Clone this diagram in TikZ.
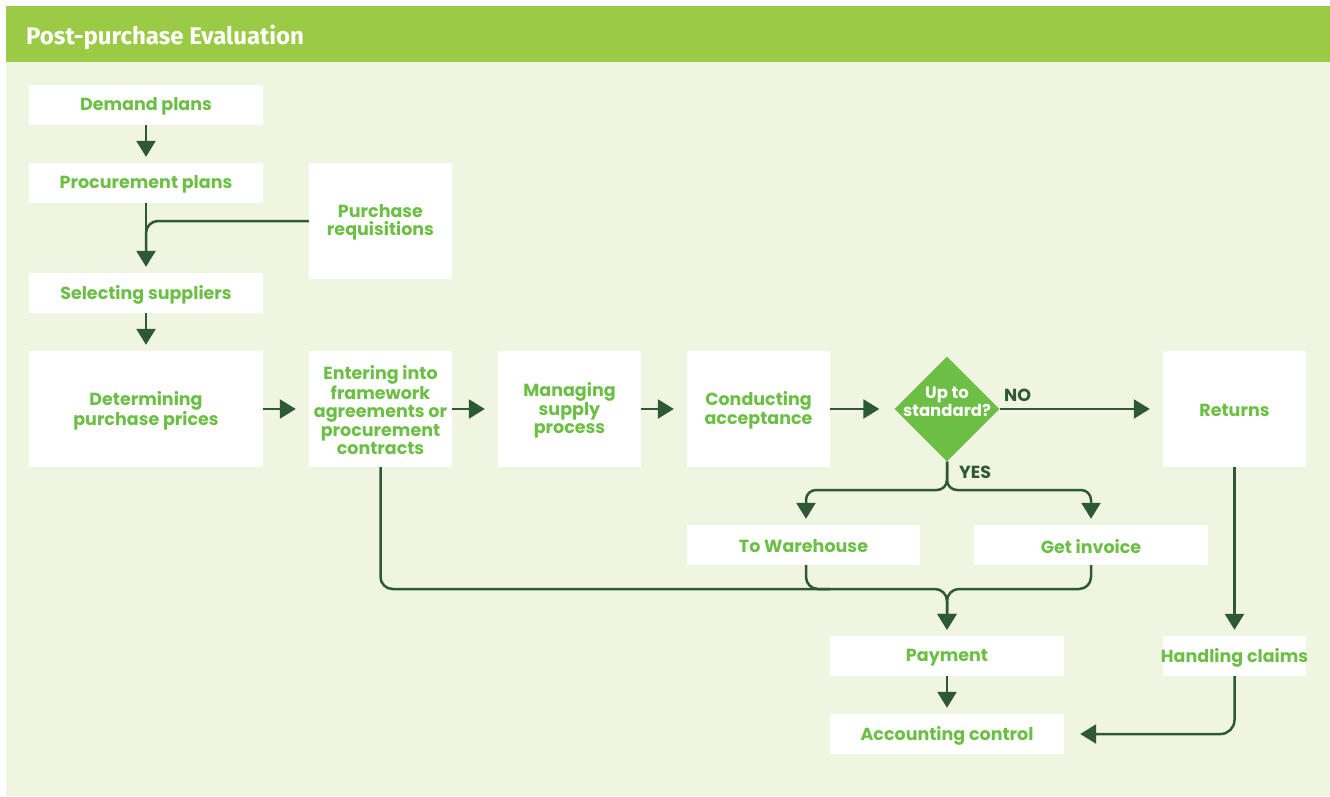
\documentclass[tikz,border=0pt]{standalone}
\usepackage{fontspec}
\setmainfont{Poppins}
\newfontfamily\headfont{Fira Sans}
\usetikzlibrary{arrows.meta,shapes.geometric}

\definecolor{headgreen}{HTML}{9BCA45}
\definecolor{pagebg}{HTML}{F0F5E1}
\definecolor{textgreen}{HTML}{6CBF45}
\definecolor{flowdark}{HTML}{2E5935}
\definecolor{decisiongreen}{HTML}{6DBE45}

\tikzset{
  boxfont/.style={font=\bfseries\fontsize{17.5}{18.5}\selectfont},
  % white step box; its caption sits as a centred label, nudged so the
  % capital letters are centred in the box
  stepbox/.style n args={3}{fill=white, draw=none, inner sep=0pt,
    minimum width=#1, minimum height=#2,
    label={[boxfont, text=textgreen, align=center, inner sep=0pt, yshift=-1.5pt]center:{#3}}},
  flow/.style={draw=flowdark, line width=2.5pt},
  arrowv/.style={flow, -{Triangle[width=19pt,length=16pt]}, shorten >=6pt},
  arrowh/.style={flow, -{Triangle[width=19pt,length=16pt]}, shorten >=13pt},
  branchlabel/.style={boxfont, text=flowdark, inner sep=0pt}
}

\begin{document}
\begin{tikzpicture}[x=1pt,y=-1pt]
  % canvas and header band
  \fill[white] (0,0) rectangle (1330,796);
  \fill[pagebg] (6,62) rectangle (1330,796);
  \fill[headgreen] (6,6) rectangle (1330,62);
  \node[anchor=west, text=white, inner sep=0pt,
        font=\headfont\bfseries\fontsize{24}{26}\selectfont] (title) at (26,37) {Post-purchase Evaluation};

  % left column
  \node[stepbox={234pt}{40pt}{Demand plans}] (demand) at (146,105) {};
  \node[stepbox={234pt}{40pt}{Procurement plans}] (procplan) at (146,183) {};
  \node[stepbox={143pt}{116pt}{Purchase\\requisitions}] (req) at (380.5,221) {};
  \node[stepbox={234pt}{40pt}{Selecting suppliers}] (select) at (146,293) {};

  % main row
  \node[stepbox={234pt}{116pt}{Determining\\purchase prices}] (price) at (146,409) {};
  \node[stepbox={143pt}{116pt}{Entering into\\framework\\agreements or\\procurement\\contracts}] (contract) at (380.5,409) {};
  \node[stepbox={143pt}{116pt}{Managing\\supply\\process}] (supply) at (569.5,409) {};
  \node[stepbox={143pt}{116pt}{Conducting\\acceptance}] (accept) at (758.5,409) {};
  \node[diamond, fill=decisiongreen, minimum width=105pt, minimum height=105pt, inner sep=0pt,
        label={[font=\bfseries\fontsize{16.5}{18}\selectfont, text=white, align=center,
                inner sep=0pt, yshift=7pt]center:{Up to\\standard?}}] (check) at (947,409) {};
  \node[stepbox={143pt}{116pt}{Returns}] (returns) at (1234.5,409) {};

  % lower part
  \node[stepbox={233pt}{40pt}{To Warehouse}] (warehouse) at (803.5,545) {};
  \node[stepbox={234pt}{40pt}{Get invoice}] (invoice) at (1091,545) {};
  \node[stepbox={234pt}{40pt}{Payment}] (payment) at (947,656) {};
  \node[stepbox={143pt}{40pt}{Handling claims}] (claims) at (1234.5,656) {};
  \node[stepbox={234pt}{40pt}{Accounting control}] (account) at (947,734) {};

  % decision branch labels
  \node[branchlabel, anchor=west] (nolabel) at (1004,395) {NO};
  \node[branchlabel, anchor=west] (yeslabel) at (959,472) {YES};

  % bends and merge points
  \coordinate (reqjoin) at (146,221);
  \coordinate (splitL) at (806,490);
  \coordinate (splitR) at (1091,490);
  \coordinate (mergeY) at (947,589);

  % connectors
  \draw[arrowv] (demand) -- (procplan);
  \draw[arrowv] (procplan) -- (select);
  \draw[flow, rounded corners=12pt] (req.west) -- (reqjoin) -- ++(0,30);
  \draw[arrowv] (select) -- (price);
  \draw[arrowh] (price) -- (contract);
  \draw[arrowh] (contract) -- (supply);
  \draw[arrowh] (supply) -- (accept);
  \draw[arrowh, shorten >=15pt] (accept) -- (check);
  \draw[arrowh] (check) -- (returns);

  \draw[arrowv, rounded corners=10pt] (check.south) -- (947,490) -- (splitL) -- (warehouse.north -| splitL);
  \draw[arrowv, rounded corners=10pt] (check.south) -- (947,490) -- (splitR) -- (invoice.north);

  \draw[arrowv, rounded corners=12pt] (contract.south) -- (contract.south |- mergeY) -- (mergeY) -- (payment.north);
  \draw[flow, rounded corners=12pt] (warehouse.south -| splitL) -- (splitL |- mergeY) -- ++(24,0);
  \draw[arrowv, rounded corners=12pt] (invoice.south) -- (invoice.south |- mergeY) -- (mergeY) -- (payment.north);

  \draw[arrowv] (payment) -- (account);
  \draw[arrowv] (returns) -- (claims);
  \draw[arrowh, shorten >=16pt, rounded corners=14pt] (claims.south) -- (claims.south |- account) -- (account.east);
\end{tikzpicture}
\end{document}
